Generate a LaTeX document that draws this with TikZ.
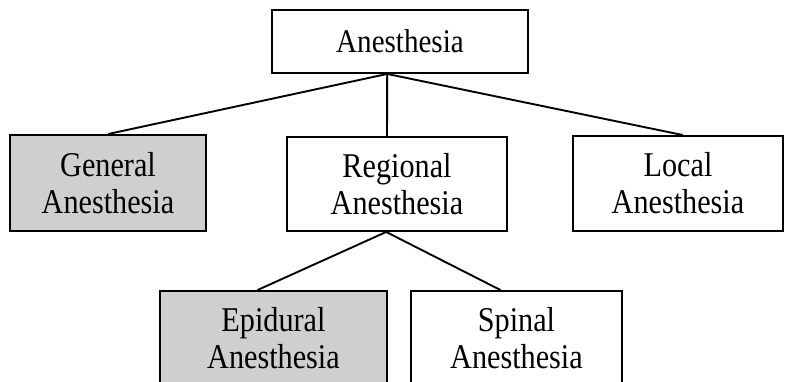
\documentclass[tikz,border=0pt]{standalone}
\usepackage{fontspec}
\setmainfont{Liberation Serif}
\newfontfamily\topfont[FakeStretch=0.88]{Liberation Serif}
\newfontfamily\boxfont[FakeStretch=0.87]{Liberation Serif}
\usepackage{tikz}

\begin{document}
\begin{tikzpicture}[
    box/.style={draw, line width=1.35pt, rectangle, align=center,
      inner sep=0pt, font=\boxfont\fontsize{24.7}{26.3}\selectfont},
    shaded/.style={box, fill=gray!38},
    link/.style={line width=1.35pt}
  ]
  \useasboundingbox (0,0) rectangle (19.7,9.525);
  % positions of the boxes
  \coordinate (T) at (10.0,8.4875);
  \coordinate (G) at (2.7,4.95);
  \coordinate (R) at (9.925,4.925);
  \coordinate (L) at (16.95,4.9375);
  \coordinate (E) at (6.8375,1.0625);
  \coordinate (S) at (12.9125,1.0625);
  % top level
  \node[box, minimum width=6.4cm, minimum height=1.575cm,
    font=\topfont\fontsize{23.5}{26}\selectfont] (top) at (T) {Anesthesia};
  % second level
  \node[shaded, minimum width=4.9cm, minimum height=2.4cm] (gen) at (G) {General\\Anesthesia};
  \node[box, minimum width=5.5cm, minimum height=2.35cm] (reg) at (R) {Regional\\Anesthesia};
  \node[box, minimum width=5.25cm, minimum height=2.375cm] (loc) at (L) {Local\\Anesthesia};
  % third level
  \node[shaded, minimum width=5.675cm, minimum height=2.375cm] (epi) at (E) {Epidural\\Anesthesia};
  \node[box, minimum width=5.275cm, minimum height=2.375cm] (spi) at (S) {Spinal\\Anesthesia};
  % connectors
  \draw[link] ([xshift=-3.2mm]top.south) -- (gen.north);
  \draw[link] ([xshift=-3.2mm]top.south) -- ([xshift=-2.5mm]reg.north);
  \draw[link] ([xshift=-3.2mm]top.south) -- ([xshift=1.2mm]loc.north);
  \draw[link] ([xshift=-2.7mm]reg.south) -- ([xshift=-4mm]epi.north);
  \draw[link] ([xshift=-2.7mm]reg.south) -- ([xshift=-4mm]spi.north);
\end{tikzpicture}
\end{document}
